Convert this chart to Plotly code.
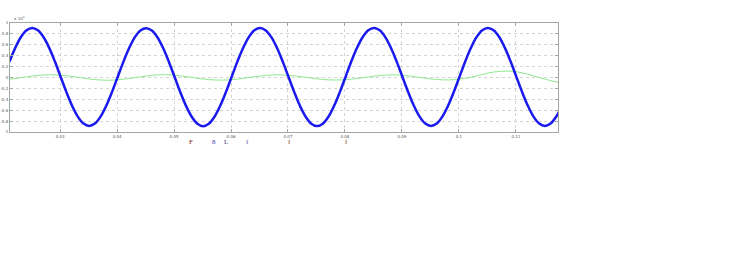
import plotly.graph_objects as go

# time base (s)
time_s = [0.0211, 0.0221, 0.0231, 0.0241, 0.0251, 0.0261, 0.0271, 0.0281, 0.0291, 0.0301,
          0.0311, 0.0321, 0.0331, 0.0341, 0.0351, 0.0361, 0.0371, 0.0381, 0.0391, 0.0401,
          0.0411, 0.0421, 0.0431, 0.0441, 0.0451, 0.0461, 0.0471, 0.0481, 0.0491, 0.0501,
          0.0511, 0.0521, 0.0531, 0.0541, 0.0551, 0.0561, 0.0571, 0.0581, 0.0591, 0.0601,
          0.0611, 0.0621, 0.0631, 0.0641, 0.0651, 0.0661, 0.0671, 0.0681, 0.0691, 0.0701,
          0.0711, 0.0721, 0.0731, 0.0741, 0.0751, 0.0761, 0.0771, 0.0781, 0.0791, 0.0801,
          0.0811, 0.0821, 0.0831, 0.0841, 0.0851, 0.0861, 0.0871, 0.0881, 0.0891, 0.0901,
          0.0911, 0.0921, 0.0931, 0.0941, 0.0951, 0.0961, 0.0971, 0.0981, 0.0991, 0.1001,
          0.1011, 0.1021, 0.1031, 0.1041, 0.1051, 0.1061, 0.1071, 0.1081, 0.1091, 0.1101,
          0.1111, 0.1121, 0.1131, 0.1141, 0.1151, 0.1161, 0.1171, 0.1181]

# blue trace (x 1e4)
blue_vals = [0.288, 0.539, 0.738, 0.866, 0.910, 0.866, 0.738, 0.539, 0.288, 0.010,
             -0.268, -0.519, -0.718, -0.846, -0.890, -0.846, -0.718, -0.519, -0.268, 0.010,
             0.286, 0.537, 0.737, 0.864, 0.905, 0.862, 0.735, 0.536, 0.285, 0.008,
             -0.270, -0.521, -0.720, -0.848, -0.893, -0.848, -0.720, -0.520, -0.269, 0.009,
             0.287, 0.538, 0.737, 0.865, 0.908, 0.864, 0.736, 0.537, 0.286, 0.009,
             -0.269, -0.520, -0.719, -0.847, -0.892, -0.847, -0.719, -0.519, -0.268, 0.010,
             0.289, 0.540, 0.739, 0.866, 0.909, 0.865, 0.737, 0.538, 0.287, 0.010,
             -0.268, -0.519, -0.718, -0.845, -0.889, -0.845, -0.717, -0.518, -0.267, 0.011,
             0.290, 0.541, 0.740, 0.867, 0.910, 0.866, 0.738, 0.539, 0.288, 0.011,
             -0.267, -0.518, -0.717, -0.844, -0.888, -0.844, -0.716, -0.517]

# green trace (x 1e4)
green_vals = [-0.032, -0.018, -0.003, 0.012, 0.027, 0.039, 0.047, 0.050, 0.048, 0.042,
              0.032, 0.018, 0.003, -0.012, -0.027, -0.039, -0.047, -0.050, -0.048, -0.042,
              -0.031, -0.017, -0.002, 0.013, 0.028, 0.040, 0.048, 0.051, 0.049, 0.042,
              0.031, 0.017, 0.002, -0.013, -0.027, -0.038, -0.045, -0.048, -0.046, -0.040,
              -0.030, -0.016, -0.001, 0.013, 0.027, 0.038, 0.046, 0.049, 0.047, 0.041,
              0.031, 0.017, 0.003, -0.011, -0.025, -0.036, -0.043, -0.046, -0.045, -0.040,
              -0.031, -0.018, -0.004, 0.010, 0.024, 0.036, 0.044, 0.048, 0.047, 0.041,
              0.031, 0.018, 0.003, -0.012, -0.026, -0.037, -0.043, -0.045, -0.040, -0.030,
              -0.015, 0.005, 0.028, 0.055, 0.080, 0.100, 0.112, 0.118, 0.115, 0.105,
              0.085, 0.060, 0.030, 0.000, -0.030, -0.058, -0.082, -0.100]

x_ticks = [0.03, 0.04, 0.05, 0.06, 0.07, 0.08, 0.09, 0.10, 0.11]
x_tick_text = ["0.03", "0.04", "0.05", "0.06", "0.07", "0.08", "0.09", "0.1", "0.11"]
y_ticks = [1, 0.8, 0.6, 0.4, 0.2, 0, -0.2, -0.4, -0.6, -0.8, -1]
y_tick_text = ["1", "0.8", "0.6", "0.4", "0.2", "0", "-0.2", "-0.4", "-0.6", "-0.8", "-1"]

fig = go.Figure()
fig.add_trace(go.Scatter(x=time_s, y=green_vals, mode="lines",
                         line=dict(color="#8ee88e", width=1, shape="spline"),
                         showlegend=False))
fig.add_trace(go.Scatter(x=time_s, y=blue_vals, mode="lines",
                         line=dict(color="#1a1aee", width=2.5, shape="spline"),
                         showlegend=False))

axis_common = dict(showline=True, linecolor="#a0a8a0", linewidth=1, mirror="ticks",
                   ticks="inside", ticklen=3, tickcolor="#a0a8a0", automargin=False,
                   showgrid=True, gridcolor="#d4d4d4", griddash="dot", gridwidth=1,
                   zeroline=False, tickfont=dict(size=4, color="#555555", family="DejaVu Sans"))

fig.update_xaxes(range=[0.0212, 0.1174], tickvals=x_ticks, ticktext=x_tick_text, **axis_common)
fig.update_yaxes(range=[-1, 1], tickvals=y_ticks, ticktext=y_tick_text, **axis_common)

annotations = [
    dict(text="x 10<sup>4</sup>", xref="paper", yref="paper", x=0.003, y=1.0,
         xanchor="left", yanchor="bottom", showarrow=False,
         font=dict(size=4, color="#555555", family="DejaVu Sans")),
]
caption_bits = [("F", 191, "#8b1a1a"), ("8", 214, "#3a3ab0"), ("L", 226, "#3a3a80"),
                ("f", 247, "#6060b0"), ("f", 289, "#8b4a2a"), ("f", 346, "#8b4a2a")]
for txt, px, col in caption_bits:
    annotations.append(dict(text=txt, xref="paper", yref="paper",
                            x=(px - 10) / 548, y=-0.04, xanchor="center", yanchor="top",
                            showarrow=False,
                            font=dict(size=7, color=col, family="Liberation Serif")))

fig.update_layout(width=738, height=272,
                  margin=dict(l=10, r=180, t=23, b=140),
                  paper_bgcolor="white", plot_bgcolor="white",
                  annotations=annotations)

fig.write_html("out.html")
